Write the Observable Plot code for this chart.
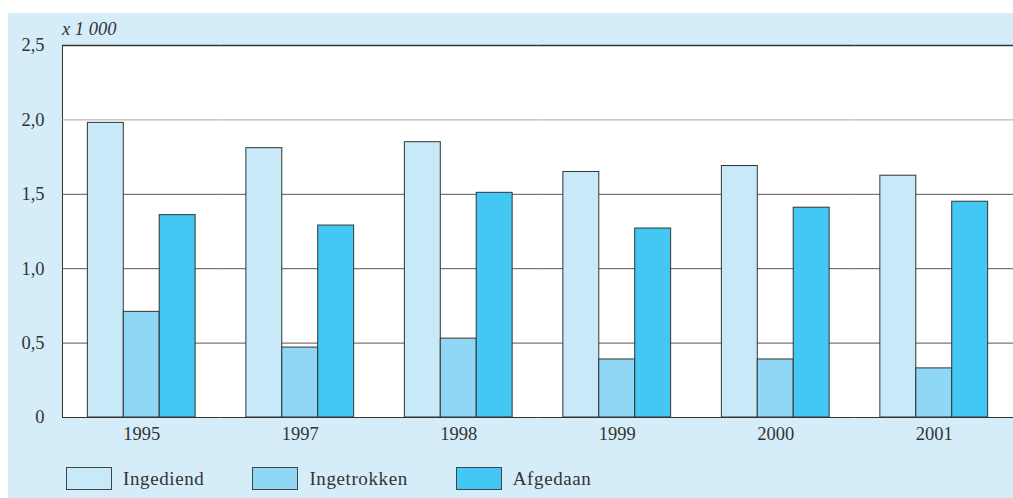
<!DOCTYPE html>
<html>
<head>
<meta charset="utf-8">
<script src="https://cdn.jsdelivr.net/npm/d3@7"></script>
<script src="https://cdn.jsdelivr.net/npm/@observablehq/plot@0.6"></script>
<style>
  html, body { margin: 0; padding: 0; background: #ffffff; }
  #wrap { position: relative; width: 1013px; height: 498px; overflow: hidden; font-family: "Liberation Serif", serif; color: #333; }
  #panel { position: absolute; left: 8px; top: 13px; right: 0; bottom: 0; background: #d5edf9; }
  #chart { position: absolute; left: 0; top: 0; }
  #unit { position: absolute; left: 62px; top: 19px; font-style: italic; font-size: 18.5px; color: #333; }
  #legend { position: absolute; left: 66px; top: 467px; display: flex; align-items: center; font-size: 19px; letter-spacing: 0.6px; }
  .item { display: flex; align-items: center; margin-right: 48px; }
  .sw { width: 44px; height: 21px; border: 1px solid #444; margin-right: 11px; }
</style>
</head>
<body>
<div id="wrap">
  <div id="panel"></div>
  <div id="chart"></div>
  <div id="unit">x 1 000</div>
  <div id="legend"></div>
</div>
<script>
const years = ["1995", "1997", "1998", "1999", "2000", "2001"];
const series = ["Ingediend", "Ingetrokken", "Afgedaan"];
const ingediend = [1.98, 1.81, 1.85, 1.65, 1.69, 1.625];
const ingetrokken = [0.71, 0.47, 0.53, 0.39, 0.39, 0.33];
const afgedaan = [1.36, 1.29, 1.51, 1.27, 1.41, 1.45];
const yTicks = [0, 0.5, 1, 1.5, 2, 2.5];
const colors = ["#c8e9f8", "#8fd7f5", "#42c8f3"];

const valuesBySeries = [ingediend, ingetrokken, afgedaan];
const rows = [];
years.forEach((yr, i) => {
  series.forEach((s, k) => rows.push({year: yr, series: s, value: valuesBySeries[k][i]}));
});

const fmt = d => d === 0 ? "0" : d.toFixed(1).replace(".", ",");

const chart = Plot.plot({
  width: 1013,
  height: 460,
  marginLeft: 62,
  marginRight: 0,
  marginTop: 45,
  marginBottom: 43,
  style: {background: "transparent", fontFamily: "Liberation Serif, serif", fontSize: "18.5px", color: "#333", overflow: "visible"},
  fx: {domain: years, padding: 0, round: false, label: null, tickSize: 0, tickPadding: 9},
  x: {domain: series, axis: null, paddingInner: 0, paddingOuter: 0.706, round: false},
  y: {domain: [0, 2.5], ticks: yTicks, tickFormat: fmt, tickSize: 0, tickPadding: 18, label: null, line: true},
  color: {domain: series, range: colors},
  marks: [
    Plot.frame({fill: "white", stroke: null, shapeRendering: "crispEdges"}),
    Plot.ruleY([0.5, 1, 1.5], {stroke: "#555", strokeOpacity: 1}),
    Plot.ruleY([2], {stroke: "#aaa", strokeOpacity: 1}),
    Plot.barY(rows, {fx: "year", x: "series", y: "value", fill: "series", stroke: "#333", strokeWidth: 1}),
    Plot.ruleY([0], {stroke: "#333", strokeOpacity: 1}),
    Plot.ruleY([2.5], {stroke: "#333", strokeWidth: 1.5, strokeOpacity: 1})
  ]
});
document.getElementById("chart").appendChild(chart);

const legend = document.getElementById("legend");
series.forEach((s, k) => {
  const item = document.createElement("div");
  item.className = "item";
  const sw = document.createElement("div");
  sw.className = "sw";
  sw.style.background = colors[k];
  const t = document.createElement("span");
  t.textContent = s;
  item.appendChild(sw);
  item.appendChild(t);
  legend.appendChild(item);
});
</script>
</body>
</html>
